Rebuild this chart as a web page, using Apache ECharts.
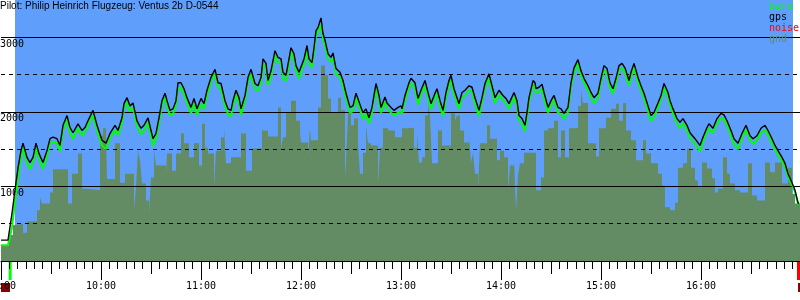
<!DOCTYPE html>
<html><head><meta charset="utf-8">
<script src="https://cdn.jsdelivr.net/npm/echarts@6.0.0/dist/echarts.min.js"></script>
<style>html,body{margin:0;padding:0;background:#fff}#c{width:800px;height:300px}</style>
</head><body><div id="c"></div>
<script>
// ---------- data (time = minutes after 09:00, altitude in m) ----------
const titleText = 'Pilot: Philip Heinrich Flugzeug: Ventus 2b D-0544';
const legendNames = ['baro', 'gps', 'noise', 'gnd'];
const hourLabels = ['09:00','10:00','11:00','12:00','13:00','14:00','15:00','16:00','17:00'];
const altLabels = [1000, 2000, 3000];

const gpsTime = [
  0,4.2,6.6,8.4,10.2,12,13.2,15.6,17.4,19.2,
  21,22.8,25.2,27.6,29.4,31.2,33.6,35.4,37.2,39.6,
  41.4,43.2,46.2,48.6,50.4,52.2,55.2,57.6,60.6,63,
  65.4,68.4,70.2,72.6,73.8,75.6,77.4,79.2,81.6,84,
  85.8,88.2,90,91.2,93,94.8,96.6,98.4,99.6,101.4,
  103.2,105,106.2,108,109.8,111.6,114,115.8,117.6,120,
  121.8,123.6,126,128.4,130.2,132,134.4,136.2,138,139.2,
  141,142.8,144,146.4,148.2,150,152.4,154.2,156,157.2,
  159,160.2,162,164.4,166.2,168,169.2,171,172.8,174,
  175.8,177,178.8,180,181.8,183.6,184.8,186.6,187.8,189,
  190.2,192,193.2,194.4,196.2,198,199.2,201,203.4,205.2,
  207,209.4,211.2,213,214.2,216,217.2,219,220.8,222.6,
  223.8,225,226.8,228,230.4,231.6,234,235.8,238.2,240,
  240.6,242.4,244.8,246,248.4,250.2,252,254.4,256.2,258,
  260.4,261.6,263.4,265.2,267,268.8,270,271.8,273.6,274.8,
  276.6,278.4,280.8,282.6,284.4,286.8,288.6,290.4,292.8,294.6,
  296.4,298.8,301.2,303,304.8,307.8,309.6,310.8,312.6,314.4,
  315.6,316.8,319.2,320.4,321,322.8,324.6,325.8,328.2,330,
  331.8,334.2,336,337.8,340.2,342,343.8,346.2,348,349.8,
  352.2,354,355.8,358.2,360,361.8,363.6,365.4,367.2,369,
  370.8,372.6,374.4,376.8,378,379.8,382.2,384,385.8,388.2,
  390,391.8,394.2,396,397.8,400.2,401.4,403.2,405.6,407.4,
  409.2,411.6,413.4,416.4,419.4,421.2,423.6,424.8,427.2,429.6,
  432,433.8,435.6,438,439.8,442.2,444.6,447,449.4,451.2,
  453.6,456,458.4,460.2,462.6,464.4,466.2,468.6,470.4,472.2,
  474.6,476.4,478.2,478.8
];
const gpsAlt = [
  280,280,640,950,1250,1480,1580,1390,1320,1390,
  1580,1440,1320,1480,1640,1660,1640,1550,1820,1950,
  1790,1720,1840,1750,1790,1880,2020,1820,1620,1580,
  1710,1820,1750,1920,2110,2190,2080,2120,1880,1780,
  1820,1920,1750,1640,1710,1920,2150,2250,2150,2020,
  2040,2150,2390,2390,2310,2190,2060,2180,2040,2180,
  2110,2290,2460,2570,2390,2380,2150,2040,2020,2150,
  2290,2190,2040,2220,2460,2570,2380,2350,2460,2710,
  2650,2420,2550,2820,2730,2710,2530,2490,2710,2860,
  2780,2620,2530,2530,2710,2890,2710,2660,2860,3090,
  3130,3260,3050,2960,2780,2730,2790,2580,2530,2420,
  2250,2060,2080,2250,2260,2060,1990,2040,1920,2060,
  2220,2380,2220,2060,2200,2120,2060,2020,2060,2080,
  2040,2220,2390,2450,2390,2180,2290,2420,2260,2110,
  2250,2310,2150,2020,2260,2420,2490,2310,2190,2110,
  2260,2290,2350,2330,2190,2020,2190,2380,2510,2350,
  2190,2290,2220,2180,2110,2260,2150,1950,1910,1820,
  1990,2190,2420,2390,2310,2330,2370,2260,2060,2150,
  2220,2060,2040,1980,2060,2390,2590,2700,2550,2450,
  2350,2260,2190,2250,2450,2620,2580,2390,2310,2450,
  2620,2650,2590,2420,2530,2650,2460,2350,2250,2080,
  1950,1990,2120,2220,2380,2260,2150,2040,1910,1860,
  1910,1820,1720,1640,1550,1660,1790,1840,1780,1910,
  1980,1960,1880,1750,1640,1580,1710,1820,1680,1640,
  1680,1780,1820,1750,1640,1550,1480,1390,1310,1170,
  1050,950,780,770
];
const baroAlt = [
  210,210,450,790,1110,1390,1510,1310,1240,1320,
  1520,1370,1240,1410,1570,1600,1580,1470,1750,1890,
  1720,1640,1780,1680,1730,1820,1960,1750,1550,1500,
  1640,1760,1680,1850,2050,2130,2010,2060,1810,1700,
  1750,1860,1680,1540,1640,1850,2090,2190,2080,1950,
  1970,2090,2320,2330,2240,2120,1980,2110,1960,2110,
  2040,2220,2400,2510,2330,2310,2080,1970,1940,2080,
  2230,2120,1960,2150,2400,2510,2310,2280,2390,2640,
  2590,2350,2480,2760,2660,2650,2460,2410,2640,2800,
  2710,2550,2450,2460,2640,2830,2640,2590,2790,3020,
  3070,3170,2980,2890,2710,2670,2730,2510,2460,2350,
  2180,1990,2010,2190,2200,1990,1910,1970,1840,1990,
  2160,2320,2150,1990,2140,2050,1990,1950,1990,2010,
  1970,2160,2330,2390,2320,2100,2230,2360,2190,2030,
  2190,2250,2080,1940,2190,2360,2430,2240,2120,2030,
  2190,2220,2290,2270,2120,1940,2130,2320,2450,2280,
  2120,2230,2160,2110,2040,2200,2080,1880,1840,1740,
  1920,2130,2360,2330,2250,2270,2310,2190,1990,2090,
  2160,1990,1970,1900,2000,2330,2530,2640,2490,2390,
  2290,2190,2110,2190,2390,2560,2520,2330,2240,2390,
  2560,2590,2530,2350,2470,2590,2400,2290,2190,2010,
  1870,1930,2060,2160,2320,2200,2090,1980,1840,1780,
  1850,1750,1650,1570,1470,1600,1730,1780,1710,1850,
  1920,1900,1820,1690,1570,1500,1650,1760,1620,1570,
  1620,1720,1760,1690,1580,1490,1420,1340,1260,1130,
  1020,930,770,760
];
const gndTime = [
  0,4.8,7.2,8.4,13.2,15.6,21.6,23.4,24.6,29.4,
  31.2,40.2,42.6,46.2,48.6,51.6,59.4,61.2,63,63.6,
  68.4,71.4,74.4,79.8,81,82.2,83.4,84.6,87,88.8,
  90,91.8,93,99,99.6,102.6,105,108,109.8,112.8,
  115.8,118.8,120.6,122.4,124.2,127.8,129,132,133.8,135,
  138,144,147,150.6,156.6,160.2,166.2,168,169.2,171,
  174,177,179.4,180,184.2,185.4,186,190.2,192,194.4,
  196.2,198,199.2,202.2,204,206.4,207,208.2,210,211.8,
  214.2,215.4,217.2,219,220.2,222,226.2,227.4,229.2,232.2,
  236.4,240.6,245.4,247.8,249.6,250.8,252.6,254.4,256.2,257.4,
  258.6,262.2,264.6,270,272.4,273.6,275.4,277.8,280.8,282,
  283.2,284.4,286.2,287.4,291.6,293.4,297.6,299.4,301.8,304.2,
  305.4,307.8,309,310.2,311.4,313.8,321,324,325.8,328.2,
  331.8,334.2,336,338.4,340.8,346.2,348,349.2,352.2,357,
  358.8,363,366,369,370.8,373.2,375,378,381,385.2,
  387,390,394.2,396.6,398.4,401.4,404.4,406.2,409.2,411.6,
  414,416.4,418.2,420.6,423.6,426.6,428.4,430.2,433.2,435.6,
  437.4,440.4,443.4,448.2,450.6,453.6,458.4,461.4,464.4,468.6,
  472.2,474.6,476.4,480
];
const gndAlt = [
  200,350,480,500,380,530,680,850,770,920,
  1230,770,1170,1440,970,950,1680,1780,1680,1100,
  1580,1050,1170,680,990,1480,1350,1040,810,640,
  1120,1480,1280,1150,1440,1210,1440,1710,1580,1390,
  1580,1280,1840,1520,1440,990,1480,1660,1790,1310,
  1390,1710,1210,1510,1750,1670,2060,1510,1660,1980,
  2150,1880,1720,1590,1410,1780,1620,2060,2620,2490,
  2180,2000,1980,2190,2020,1120,1330,1980,1820,1910,
  1580,1170,1450,1820,1580,1550,1040,1520,1780,1750,
  1660,1780,1790,1520,1720,1320,1390,1950,2110,1950,
  1310,1750,1550,1980,1880,1950,1750,1590,1680,1320,
  1450,1170,970,1580,1820,1640,1350,1480,1390,950,
  1280,1350,680,1150,1310,1450,950,1120,1750,1780,
  1880,1390,1750,1390,1780,2080,2290,2120,1580,1400,
  1780,1920,2040,2110,1880,2120,1750,1620,1350,1620,
  1440,1310,1170,1010,720,680,780,1250,1310,1510,
  1250,1080,990,1320,1240,1110,920,970,1390,1170,
  1040,950,920,1310,880,810,1320,1190,1320,1040,
  1250,900,770,770
];
// time windows (minutes after 09:00)
const loggedWindow = [8.4, 475.2];
const takeoffWindow = [4.6, 6.4];
const landingWindow = [477.6, 480];
const noiseWindows = [[0, 5.4], [478.2, 480]];

// ---------- chart ----------
const MONO = 'DejaVu Sans Mono';
const pair = (ts, vs) => ts.map((t, i) => [t, vs[i]]);
const chart = echarts.init(document.getElementById('c'), null, {renderer: 'canvas'});
const xBase = {type: 'value', min: 0, max: 480, position: 'bottom', splitLine: {show: false}};
chart.setOption({
  animation: false,
  backgroundColor: '#ffffff',
  title: {text: titleText, left: 0, top: 1, padding: 0, z: 20,
    textStyle: {fontFamily: 'Liberation Sans', fontSize: 10, fontWeight: 'normal', color: '#000'}},
  legend: {
    orient: 'vertical', left: 764, top: 1, padding: 0, itemGap: 0,
    itemWidth: 0, itemHeight: 11, icon: 'rect', selectedMode: false,
    itemStyle: {opacity: 0}, lineStyle: {opacity: 0},
    textStyle: {fontFamily: MONO, fontSize: 10, lineHeight: 11},
    data: [
      {name: legendNames[0], textStyle: {color: '#00ff00'}},
      {name: legendNames[1], textStyle: {color: '#000000'}},
      {name: legendNames[2], textStyle: {color: '#ff0000'}},
      {name: legendNames[3], textStyle: {color: '#648c64'}}
    ]
  },
  grid: [
    {left: 1, width: 800, top: 0, height: 261, containLabel: false, outerBoundsMode: 'none'},
    {left: 1, width: 800, top: 261, height: 31, containLabel: false, outerBoundsMode: 'none'}
  ],
  xAxis: [
    Object.assign({}, xBase, {gridIndex: 0, interval: 60, z: 1,
      axisLine: {show: true, lineStyle: {color: '#000', width: 1}},
      axisTick: {show: true, length: 19, lineStyle: {color: '#000', width: 1}},
      minorTick: {show: true, splitNumber: 12, length: 8, lineStyle: {color: '#000', width: 1}},
      axisLabel: {show: false}}),
    Object.assign({}, xBase, {gridIndex: 0, interval: 30, z: 1,
      axisLine: {show: false},
      axisTick: {show: true, length: 13, lineStyle: {color: '#000', width: 1}},
      axisLabel: {show: false}}),
    Object.assign({}, xBase, {gridIndex: 0, interval: 60, z: 10,
      axisLine: {show: false}, axisTick: {show: false},
      axisLabel: {show: true, margin: 20, showMaxLabel: false, hideOverlap: false,
        fontFamily: MONO, fontSize: 10, color: '#000',
        formatter: v => hourLabels[Math.round(v / 60)]}}),
    Object.assign({}, xBase, {gridIndex: 1, show: false})
  ],
  yAxis: [
    {gridIndex: 0, type: 'value', min: 0, max: 3500, interval: 1000, z: 3,
      axisLine: {show: false}, axisTick: {show: false},
      splitLine: {show: true, showMaxLine: false, lineStyle: {color: '#000', width: 1, type: 'solid'}},
      axisLabel: {show: true, inside: true, margin: -1, showMinLabel: false, showMaxLabel: false,
        verticalAlign: 'top', fontFamily: MONO, fontSize: 10, color: '#000', padding: [2, 0, 0, 0],
        formatter: v => (altLabels.indexOf(v) >= 0 ? String(v) : '')}},
    {gridIndex: 0, type: 'value', min: 0, max: 3500, interval: 500, z: 3,
      axisLine: {show: false}, axisTick: {show: false}, axisLabel: {show: false},
      splitLine: {show: true, showMaxLine: false, lineStyle: {color: '#000', width: 1, type: [4, 4]}}},
    {gridIndex: 1, type: 'value', min: 0, max: 31, inverse: true, show: false}
  ],
  series: [
    {name: 'logged', type: 'line', xAxisIndex: 0, yAxisIndex: 0, data: [], z: 0, silent: true,
      markArea: {silent: true, itemStyle: {color: '#5f9ffb'},
        data: [[{xAxis: loggedWindow[0]}, {xAxis: loggedWindow[1]}]]}},
    {name: 'gnd', type: 'line', step: 'end', xAxisIndex: 0, yAxisIndex: 0, z: 1,
      data: pair(gndTime, gndAlt), symbol: 'none', silent: true,
      itemStyle: {color: '#648c64'}, lineStyle: {width: 0, color: '#648c64'},
      areaStyle: {color: '#648c64', opacity: 1, origin: 'start'}},
    {name: 'baro', type: 'line', xAxisIndex: 0, yAxisIndex: 0, z: 4,
      data: pair(gpsTime, baroAlt), symbol: 'none', silent: true,
      itemStyle: {color: '#00ff00'}, lineStyle: {width: 2, color: '#00ff00'}},
    {name: 'gps', type: 'line', xAxisIndex: 0, yAxisIndex: 0, z: 5,
      data: pair(gpsTime, gpsAlt), symbol: 'none', silent: true,
      itemStyle: {color: '#000000'}, lineStyle: {width: 1.4, color: '#000000'}},
    {name: 'noise', type: 'line', xAxisIndex: 3, yAxisIndex: 2, data: [], z: 5, silent: true,
      itemStyle: {color: '#ff0000'},
      markArea: {silent: true, itemStyle: {color: '#8b0000'},
        data: noiseWindows.map(w => [{xAxis: w[0], yAxis: 22}, {xAxis: w[1], yAxis: 31}])}},
    {name: 'events', type: 'line', xAxisIndex: 3, yAxisIndex: 2, data: [], z: 5, silent: true,
      markArea: {silent: true,
        data: [
          [{xAxis: takeoffWindow[0], yAxis: 0, itemStyle: {color: '#00ff00'}}, {xAxis: takeoffWindow[1], yAxis: 19}],
          [{xAxis: landingWindow[0], yAxis: 0, itemStyle: {color: '#ff0000'}}, {xAxis: landingWindow[1], yAxis: 19}]
        ]}}
  ]
});
</script></body></html>
